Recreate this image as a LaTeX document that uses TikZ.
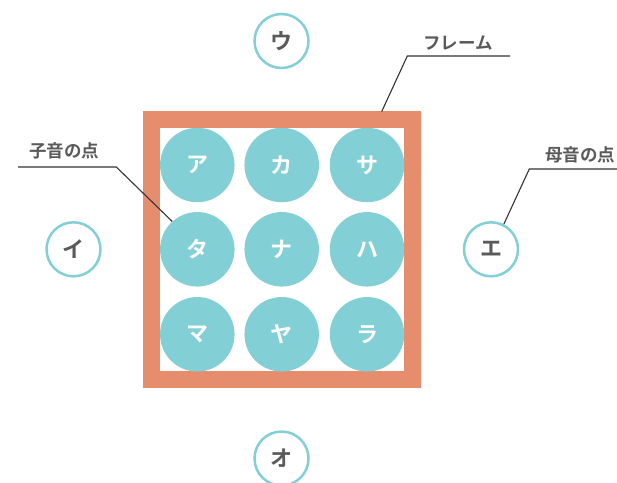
\documentclass[tikz,border=0pt]{standalone}
\usepackage{fontspec}
\newfontfamily\jpfont{Noto Sans CJK JP}[BoldFont={* Bold}]
\definecolor{frameorange}{HTML}{E68D6E}
\definecolor{dotteal}{HTML}{82CFD6}
\definecolor{labelgray}{HTML}{5A5A5A}
\definecolor{leadgray}{HTML}{333333}
\tikzset{
  consonant/.style={circle, fill=dotteal, minimum size=74.5pt, inner sep=0pt,
    text=white, font=\jpfont\bfseries\fontsize{22}{22}\selectfont},
  vowel/.style={circle, draw=dotteal, line width=2.5pt, fill=white, minimum size=54pt,
    inner sep=0pt, text=labelgray, font=\jpfont\bfseries\fontsize{22}{22}\selectfont},
  caption/.style={text=labelgray, inner sep=0pt, font=\jpfont\bfseries\fontsize{17.5}{17.5}\selectfont},
  leader/.style={draw=leadgray, line width=1.1pt},
}
\begin{document}
\begin{tikzpicture}[x=1pt, y=-1pt]
\useasboundingbox (0,0) rectangle (617,482);
% outer frame
\node[draw=frameorange, line width=16.5pt, minimum width=261pt, minimum height=260pt,
  inner sep=0pt] (frame) at (282.2,249.7) {};
% consonant dots
\foreach \name/\kana/\x/\y in {a/ア/197.3/165, ka/カ/281.7/165, sa/サ/367/165,
    ta/タ/197.3/249.3, na/ナ/281.7/249.3, ha/ハ/367/249.3,
    ma/マ/197.3/334.3, ya/ヤ/281.7/334.3, ra/ラ/367/334.3}
  \node[consonant] (\name) at (\x,\y) {\kana};
% vowel points
\node[vowel] (u) at (281.5,41) {ウ};
\node[vowel] (i) at (73.5,249.3) {イ};
\node[vowel] (e) at (491,249.3) {エ};
\node[vowel] (o) at (281.5,458.5) {オ};
% captions
\node[caption] (lblcons) at (64,150.5) {子音の点};
\node[caption] (lblframe) at (458,43) {フレーム};
\node[caption] (lblvow) at (580,155) {母音の点};
% leader lines
\coordinate (consend) at (18,167);
\coordinate (conselbow) at (116.3,167);
\draw[leader] (consend) -- (conselbow) -- (ta.132);
\coordinate (frameend) at (510,56);
\coordinate (frameelbow) at (407.3,56);
\coordinate (frametop) at (381.7,111.5);
\draw[leader] (frameend) -- (frameelbow) -- (frametop);
\coordinate (vowend) at (617,169);
\coordinate (vowelbow) at (529.3,169);
\draw[leader] (vowend) -- (vowelbow) -- (e.63);
\end{tikzpicture}
\end{document}
